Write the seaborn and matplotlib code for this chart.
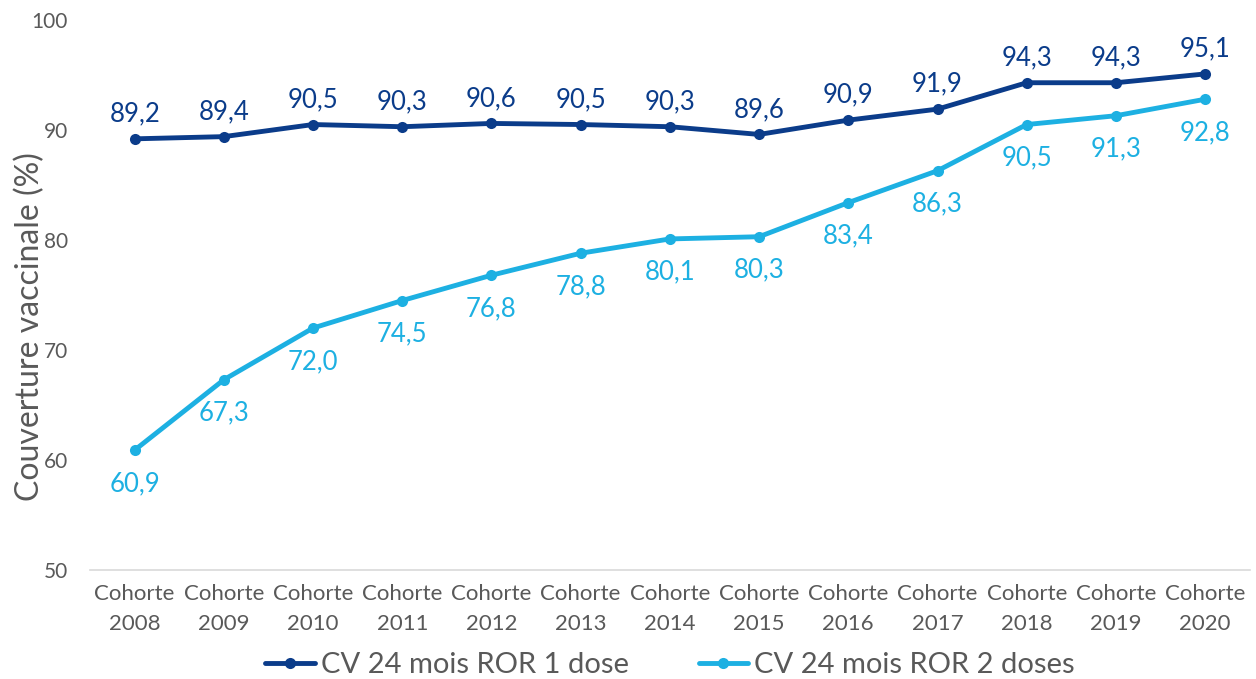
import matplotlib
matplotlib.use("Agg")
import matplotlib.pyplot as plt
import seaborn as sns
import pandas as pd

categories = ["Cohorte\n2008", "Cohorte\n2009", "Cohorte\n2010", "Cohorte\n2011", "Cohorte\n2012",
              "Cohorte\n2013", "Cohorte\n2014", "Cohorte\n2015", "Cohorte\n2016", "Cohorte\n2017",
              "Cohorte\n2018", "Cohorte\n2019", "Cohorte\n2020"]
dose1 = [89.2, 89.4, 90.5, 90.3, 90.6, 90.5, 90.3, 89.6, 90.9, 91.9, 94.3, 94.3, 95.1]
dose2 = [60.9, 67.3, 72.0, 74.5, 76.8, 78.8, 80.1, 80.3, 83.4, 86.3, 90.5, 91.3, 92.8]
series_names = ["CV 24 mois ROR 1 dose", "CV 24 mois ROR 2 doses"]
yticks = [50, 60, 70, 80, 90, 100]

sns.set_theme(style="white")
plt.rcParams['font.family'] = ['Lato', 'DejaVu Sans']

c1 = "#0B3C8A"
c2 = "#1DB0E2"
grey = "#595959"

df = pd.DataFrame({
    "x": list(range(len(categories))) * 2,
    "v": dose1 + dose2,
    "s": [series_names[0]] * len(dose1) + [series_names[1]] * len(dose2),
})

fig = plt.figure(figsize=(12.56, 6.79), dpi=100)
ax = fig.add_axes([0.0717, 0.1605, 0.9233, 0.81])
sns.lineplot(data=df, x="x", y="v", hue="s", palette=[c1, c2], marker="o",
             markersize=8, linewidth=3.5, markeredgewidth=0, ax=ax)

for i, v in enumerate(dose1):
    ax.annotate(f"{v:.1f}".replace(".", ","), (i, v), xytext=(0, 9), textcoords="offset points",
                ha="center", va="bottom", color=c1, fontsize=18.5)
for i, v in enumerate(dose2):
    ax.annotate(f"{v:.1f}".replace(".", ","), (i, v), xytext=(0, -15), textcoords="offset points",
                ha="center", va="top", color=c2, fontsize=18.5)

ax.set_xlim(-0.5, len(categories) - 0.5)
ax.set_ylim(50, 100)
ax.set_yticks(yticks)
ax.set_yticklabels([str(t) for t in yticks], color=grey, fontsize=15)
ax.set_xticks(range(len(categories)))
ax.set_xticklabels(categories, color=grey, fontsize=16)
for t in ax.get_xticklabels():
    t.set_linespacing(1.65)
ax.tick_params(axis="y", length=0, pad=16)
ax.tick_params(axis="x", length=0, pad=10)
ax.set_xlabel("")
ax.set_ylabel("Couverture vaccinale (%)", color=grey, fontsize=23)
ax.yaxis.set_label_coords(-0.039, 0.442)
for s in ["top", "right", "left"]:
    ax.spines[s].set_visible(False)
ax.spines["bottom"].set_color("#D9D9D9")
ax.spines["bottom"].set_linewidth(1.2)
ax.grid(False)

ax.legend(loc="upper center", bbox_to_anchor=(0.5, -0.128), ncol=2, frameon=False,
          fontsize=21, labelcolor=grey, handlelength=1.7, handletextpad=0.2, columnspacing=2.4,
          borderaxespad=0)

fig.savefig("out.png", dpi=100)
